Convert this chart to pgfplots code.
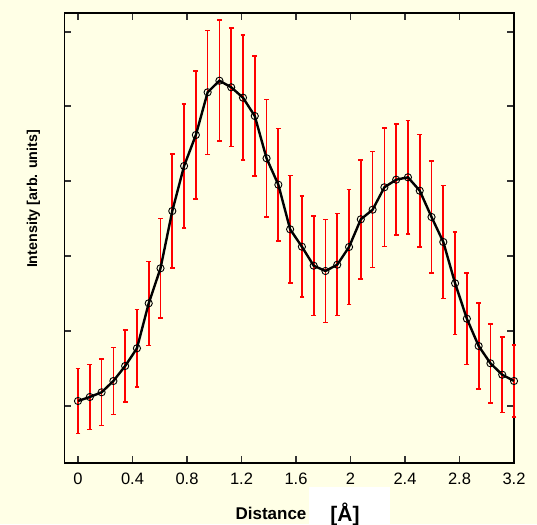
\documentclass[border=0pt]{standalone}
\usepackage{fontspec}
\setmainfont{Liberation Sans}
\usepackage{pgfplots}
\pgfplotsset{compat=1.18}
\usepackage{pgfplotstable}
\definecolor{bgyellow}{RGB}{255,255,230}
\pgfplotstableread{
x y e
0.0000 62.0 32.5
0.0865 66.0 32.5
0.1730 70.7 33.2
0.2595 82.0 33.5
0.3459 97.0 36.0
0.4324 114.7 38.7
0.5189 159.7 42.0
0.6054 194.7 49.8
0.6919 252.0 56.8
0.7784 297.0 62.0
0.8649 328.0 63.8
0.9514 370.7 62.0
1.0378 382.3 60.5
1.1243 375.7 59.4
1.2108 365.3 62.5
1.2973 347.0 60.0
1.3838 304.7 58.7
1.4703 278.3 56.4
1.5568 233.7 53.7
1.6432 216.3 50.5
1.7297 197.3 49.9
1.8162 192.0 51.4
1.9027 198.3 51.0
1.9892 216.0 57.3
2.0757 243.7 59.5
2.1622 253.3 58.0
2.2486 275.7 59.2
2.3351 283.3 55.5
2.4216 285.7 56.8
2.5081 272.3 56.2
2.5946 246.0 56.2
2.6811 221.0 56.3
2.7676 179.7 51.4
2.8541 144.3 45.7
2.9405 117.0 43.2
3.0270 99.7 39.5
3.1135 88.3 37.7
3.2000 82.0 36.0
}\datatable
\begin{document}
\begin{tikzpicture}[x=1pt,y=1pt]
\fill[bgyellow] (0,0) rectangle (537,524);
\begin{axis}[
  at={(64.4pt,61pt)}, anchor=south west,
  scale only axis, width=449.6pt, height=450pt,
  xmin=-0.1, xmax=3.2, ymin=0, ymax=450,
  axis background/.style={fill=bgyellow},
  xtick={0,0.4,0.8,1.2,1.6,2,2.4,2.8,3.2},
  xticklabels={0,0.4,0.8,1.2,1.6,2,2.4,2.8,3.2},
  ytick={57,132,207,282,357,431},
  yticklabels={},
  major tick length=7pt,
  tick style={line width=1.1pt, color=black!80},
  axis line style={line width=1.3pt},
  xticklabel style={font=\fontsize{16.5}{18}\selectfont, yshift=-6.5pt},
  clip=false,
]
\addplot[draw=none, mark=none,
  error bars/.cd, y dir=both, y explicit,
  error bar style={draw=red, line width=1.7pt},
  error mark=-,
  error mark options={draw=red, line width=1.5pt, mark size=2.4pt, rotate=90}]
  table[x=x, y=y, y error=e] {\datatable};
\addplot[black, line width=2.4pt, mark=o,
  mark options={line width=0.9pt, mark size=3.6pt, draw=black, fill=none}]
  table[x=x, y=y] {\datatable};
\end{axis}
\fill[white] (309,0) rectangle (390,37);
\node[anchor=base, font=\bfseries\fontsize{17}{20}\selectfont, inner sep=0pt] at (271,4.5) {Distance};
\node[anchor=base, font=\bfseries\fontsize{21}{24}\selectfont, inner sep=0pt] at (345,3) {[Å]};
\node[rotate=90, font=\bfseries\fontsize{14.3}{16}\selectfont, inner sep=0pt] at (33.5,325) {Intensity [arb. units]};
\pgfresetboundingbox
\useasboundingbox (0,0) rectangle (537,524);
\end{tikzpicture}
\end{document}
